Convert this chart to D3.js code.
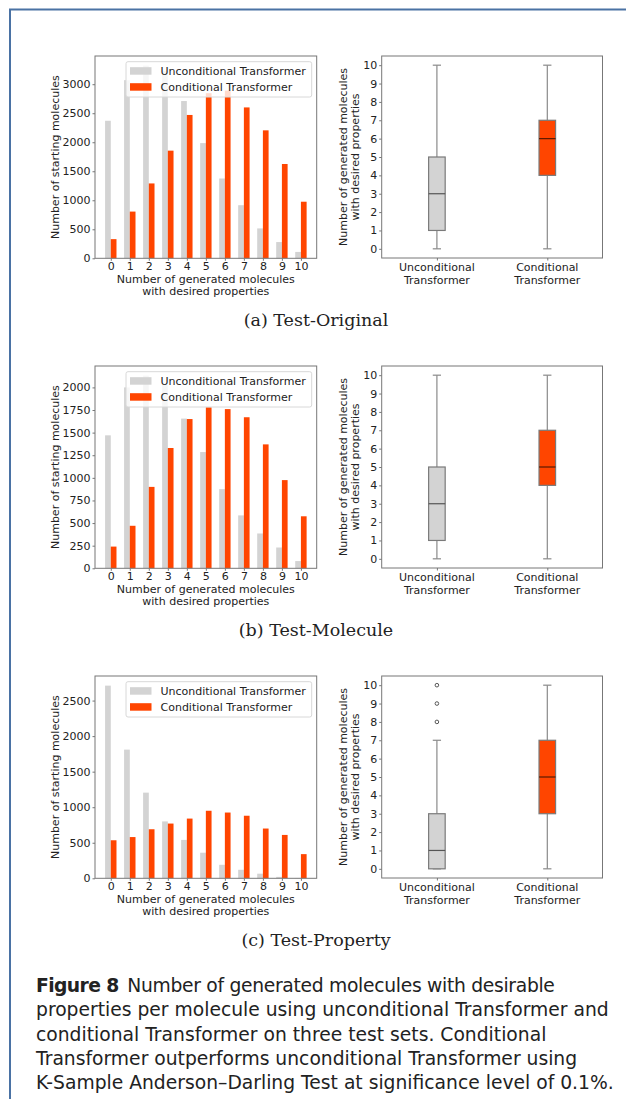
<!DOCTYPE html>
<html>
<head>
<meta charset="utf-8">
<script src="https://cdn.jsdelivr.net/npm/d3@7"></script>
<style>
body { margin: 0; background: #fff; }
svg { display: block; }
text { font-family: "DejaVu Sans", sans-serif; fill: #222; }
</style>
</head>
<body>
<svg id="fig" width="626" height="1099"></svg>
<script>
// categories: number of generated molecules with desired properties
const counts = [0, 1, 2, 3, 4, 5, 6, 7, 8, 9, 10];
const seriesNames = ['Unconditional Transformer', 'Conditional Transformer'];

// (a) Test-Original
const origUncond = [2370, 3070, 3320, 3230, 2710, 1985, 1375, 915, 515, 280, 110];
const origCond = [330, 805, 1290, 1855, 2470, 2845, 2890, 2600, 2205, 1625, 975];
const origTicks = [0, 500, 1000, 1500, 2000, 2500, 3000];
// (b) Test-Molecule
const molUncond = [1470, 2000, 2130, 2030, 1655, 1285, 875, 585, 385, 230, 80];
const molCond = [240, 470, 900, 1330, 1650, 1780, 1760, 1670, 1370, 975, 575];
const molTicks = [0, 250, 500, 750, 1000, 1250, 1500, 1750, 2000];
// (c) Test-Property
const propUncond = [2710, 1810, 1205, 800, 540, 360, 190, 120, 65, 20, 5];
const propCond = [535, 580, 690, 770, 840, 950, 925, 880, 700, 610, 340];
const propTicks = [0, 500, 1000, 1500, 2000, 2500];

// box plots: [lower whisker, q1, median, q3, upper whisker]
const boxGroups = [['Unconditional', 'Transformer'], ['Conditional', 'Transformer']];
const boxTicks = [0, 1, 2, 3, 4, 5, 6, 7, 8, 9, 10];
const origBox = [[0, 1, 3, 5, 10], [0, 4, 6, 7, 10]];
const molBox = [[0, 1, 3, 5, 10], [0, 4, 5, 7, 10]];
const propBox = [[0, 0, 1, 3, 7], [0, 3, 5, 7, 10]];
const propOutliers = [[8, 9, 10], []];

const subCaptions = ['(a) Test-Original', '(b) Test-Molecule', '(c) Test-Property'];
const captionLines = [
    'Number of generated molecules with desirable',
    'properties per molecule using unconditional Transformer and',
    'conditional Transformer on three test sets. Conditional',
    'Transformer outperforms unconditional Transformer using',
    'K-Sample Anderson\u2013Darling Test at significance level of 0.1%.'
];

const GRAY = '#d3d3d3', ORANGE = '#ff4500';
const SPINE = '#777', FS = 11;

const svg = d3.select('#fig');

// page frame
svg.append('path')
    .attr('d', 'M10,1099 V9.5 H626')
    .attr('fill', 'none')
    .attr('stroke', '#4a72a4')
    .attr('stroke-width', 2);

function styleAxis(g) {
    g.select('.domain').remove();
    g.selectAll('.tick line').attr('stroke', SPINE);
    g.selectAll('.tick text').style('font-size', FS + 'px').attr('fill', '#222');
}

function barChart(top, uncond, cond, yticks) {
    const left = 95, right = 316.7, height = 202.3;
    const bw = 0.3;
    const lo = -bw, hi = counts[counts.length - 1] + bw;
    const pad = (hi - lo) * 0.05;
    const ymax = d3.max(uncond.concat(cond)) * 1.05;

    const x = d3.scaleLinear().domain([lo - pad, hi + pad]).range([left, right]);
    const y = d3.scaleLinear().domain([0, ymax]).range([top + height, top]);
    const g = svg.append('g');

    g.selectAll('rect.unc').data(counts).join('rect')
        .attr('class', 'unc')
        .attr('x', d => x(d - bw))
        .attr('width', x(bw) - x(0))
        .attr('y', (d, i) => y(uncond[i]))
        .attr('height', (d, i) => y(0) - y(uncond[i]))
        .attr('fill', GRAY);

    g.selectAll('rect.cond').data(counts).join('rect')
        .attr('class', 'cond')
        .attr('x', d => x(d))
        .attr('width', x(bw) - x(0))
        .attr('y', (d, i) => y(cond[i]))
        .attr('height', (d, i) => y(0) - y(cond[i]))
        .attr('fill', ORANGE);

    g.append('g')
        .attr('transform', `translate(0, ${top + height})`)
        .call(d3.axisBottom(x).tickValues(counts).tickSize(2.5).tickPadding(1.5))
        .call(styleAxis);

    g.append('g')
        .attr('transform', `translate(${left}, 0)`)
        .call(d3.axisLeft(y).tickValues(yticks).tickFormat(d3.format('d')).tickSize(2.5).tickPadding(2))
        .call(styleAxis);

    g.append('rect')
        .attr('x', left).attr('y', top)
        .attr('width', right - left).attr('height', height)
        .attr('fill', 'none').attr('stroke', SPINE);

    // legend
    const lg = g.append('g').attr('transform', `translate(${right - 190.7}, ${top + 5.7})`);
    lg.append('rect')
        .attr('width', 185.7).attr('height', 35.3).attr('rx', 2)
        .attr('fill', '#fff').attr('fill-opacity', 0.8)
        .attr('stroke', '#d8d8d8');
    [GRAY, ORANGE].forEach((c, i) => {
        lg.append('rect')
            .attr('x', 4).attr('y', 5.5 + i * 16)
            .attr('width', 21.5).attr('height', 7.5)
            .attr('fill', c);
        lg.append('text')
            .attr('x', 34.5).attr('y', 13.2 + i * 16)
            .style('font-size', FS + 'px')
            .text(seriesNames[i]);
    });

    g.append('text')
        .attr('transform', `translate(${left - 36}, ${top + height / 2}) rotate(-90)`)
        .attr('text-anchor', 'middle')
        .style('font-size', FS + 'px')
        .text('Number of starting molecules');

    const xl = g.append('text')
        .attr('text-anchor', 'middle')
        .style('font-size', FS + 'px');
    ['Number of generated molecules', 'with desired properties'].forEach((t, i) => {
        xl.append('tspan')
            .attr('x', (left + right) / 2)
            .attr('y', top + height + 25 + i * 11.5)
            .text(t);
    });
}

function boxPlot(top, stats, outliers) {
    const left = 381.7, right = 602.5, height = 202;
    const x = d3.scaleLinear().domain([0.5, 2.5]).range([left, right]);
    const y = d3.scaleLinear().domain([-0.5, 10.5]).range([top + height, top]);
    const g = svg.append('g');
    const bw = 0.075, cw = 0.0375;
    const fills = [GRAY, ORANGE];

    g.append('g')
        .attr('transform', `translate(0, ${top + height})`)
        .call(d3.axisBottom(x).tickValues([1, 2]).tickSize(2.5).tickFormat(''))
        .call(styleAxis);

    g.append('g')
        .attr('transform', `translate(${left}, 0)`)
        .call(d3.axisLeft(y).tickValues(boxTicks).tickSize(2.5).tickPadding(2))
        .call(styleAxis);

    stats.forEach((s, i) => {
        const p = i + 1;
        const [wlo, q1, med, q3, whi] = s;
        const bg = g.append('g');
        bg.append('line')
            .attr('x1', x(p)).attr('x2', x(p))
            .attr('y1', y(wlo)).attr('y2', y(q1))
            .attr('stroke', '#8a8a8a').attr('stroke-width', 1.2);
        bg.append('line')
            .attr('x1', x(p)).attr('x2', x(p))
            .attr('y1', y(q3)).attr('y2', y(whi))
            .attr('stroke', '#8a8a8a').attr('stroke-width', 1.2);
        [wlo, whi].forEach(v => {
            bg.append('line')
                .attr('x1', x(p - cw)).attr('x2', x(p + cw))
                .attr('y1', y(v)).attr('y2', y(v))
                .attr('stroke', '#8a8a8a').attr('stroke-width', 1.2);
        });
        bg.append('rect')
            .attr('x', x(p - bw)).attr('width', x(p + bw) - x(p - bw))
            .attr('y', y(q3)).attr('height', y(q1) - y(q3))
            .attr('fill', fills[i])
            .attr('stroke', '#7a7a7a').attr('stroke-width', 1.2);
        bg.append('line')
            .attr('x1', x(p - bw)).attr('x2', x(p + bw))
            .attr('y1', y(med)).attr('y2', y(med))
            .attr('stroke', i === 0 ? '#555' : '#5a1a00').attr('stroke-width', 1.2);
        (outliers ? outliers[i] : []).forEach(v => {
            bg.append('circle')
                .attr('cx', x(p)).attr('cy', y(v)).attr('r', 1.8)
                .attr('fill', 'none').attr('stroke', '#555').attr('stroke-width', 1);
        });

        const tl = g.append('text')
            .attr('text-anchor', 'middle')
            .style('font-size', FS + 'px');
        boxGroups[i].forEach((t, j) => {
            tl.append('tspan')
                .attr('x', x(p))
                .attr('y', top + height + 12.5 + j * 13)
                .text(t);
        });
    });

    g.append('rect')
        .attr('x', left).attr('y', top)
        .attr('width', right - left).attr('height', height)
        .attr('fill', 'none').attr('stroke', SPINE);

    const yl = g.append('text')
        .attr('transform', `translate(${left}, ${top + height / 2}) rotate(-90)`)
        .attr('text-anchor', 'middle')
        .style('font-size', FS + 'px');
    ['Number of generated molecules', 'with desired properties'].forEach((t, i) => {
        yl.append('tspan')
            .attr('x', 0)
            .attr('y', -35 + i * 12.5)
            .text(t);
    });
}

const tops = [56, 366, 676];
barChart(tops[0], origUncond, origCond, origTicks);
barChart(tops[1], molUncond, molCond, molTicks);
barChart(tops[2], propUncond, propCond, propTicks);
boxPlot(tops[0], origBox, null);
boxPlot(tops[1], molBox, null);
boxPlot(tops[2], propBox, propOutliers);

subCaptions.forEach((t, i) => {
    svg.append('text')
        .attr('x', 316).attr('y', tops[i] + 270)
        .attr('text-anchor', 'middle')
        .style('font-family', '"DejaVu Serif", serif')
        .style('font-size', '17.5px')
        .text(t);
});

// figure caption
const cap = svg.append('g').style('font-family', 'Lato, sans-serif');
const lines = captionLines.map((t, i) => {
    const tx = cap.append('text')
        .attr('x', 36).attr('y', 992 + i * 24.3)
        .style('font-size', '20px');
    if (i === 0) {
        tx.append('tspan').style('font-weight', 'bold').attr('letter-spacing', -0.6).text('Figure 8');
        tx.append('tspan').attr('dx', 3).attr('letter-spacing', -0.3).text(' ' + t);
    } else {
        tx.text(t);
    }
    return tx;
});
// scale the font so the last line fills the text width
const w = lines[4].node().getComputedTextLength();
const fs = 20 * 578 / w;
lines.forEach(l => l.style('font-size', fs + 'px'));
</script>
</body>
</html>
